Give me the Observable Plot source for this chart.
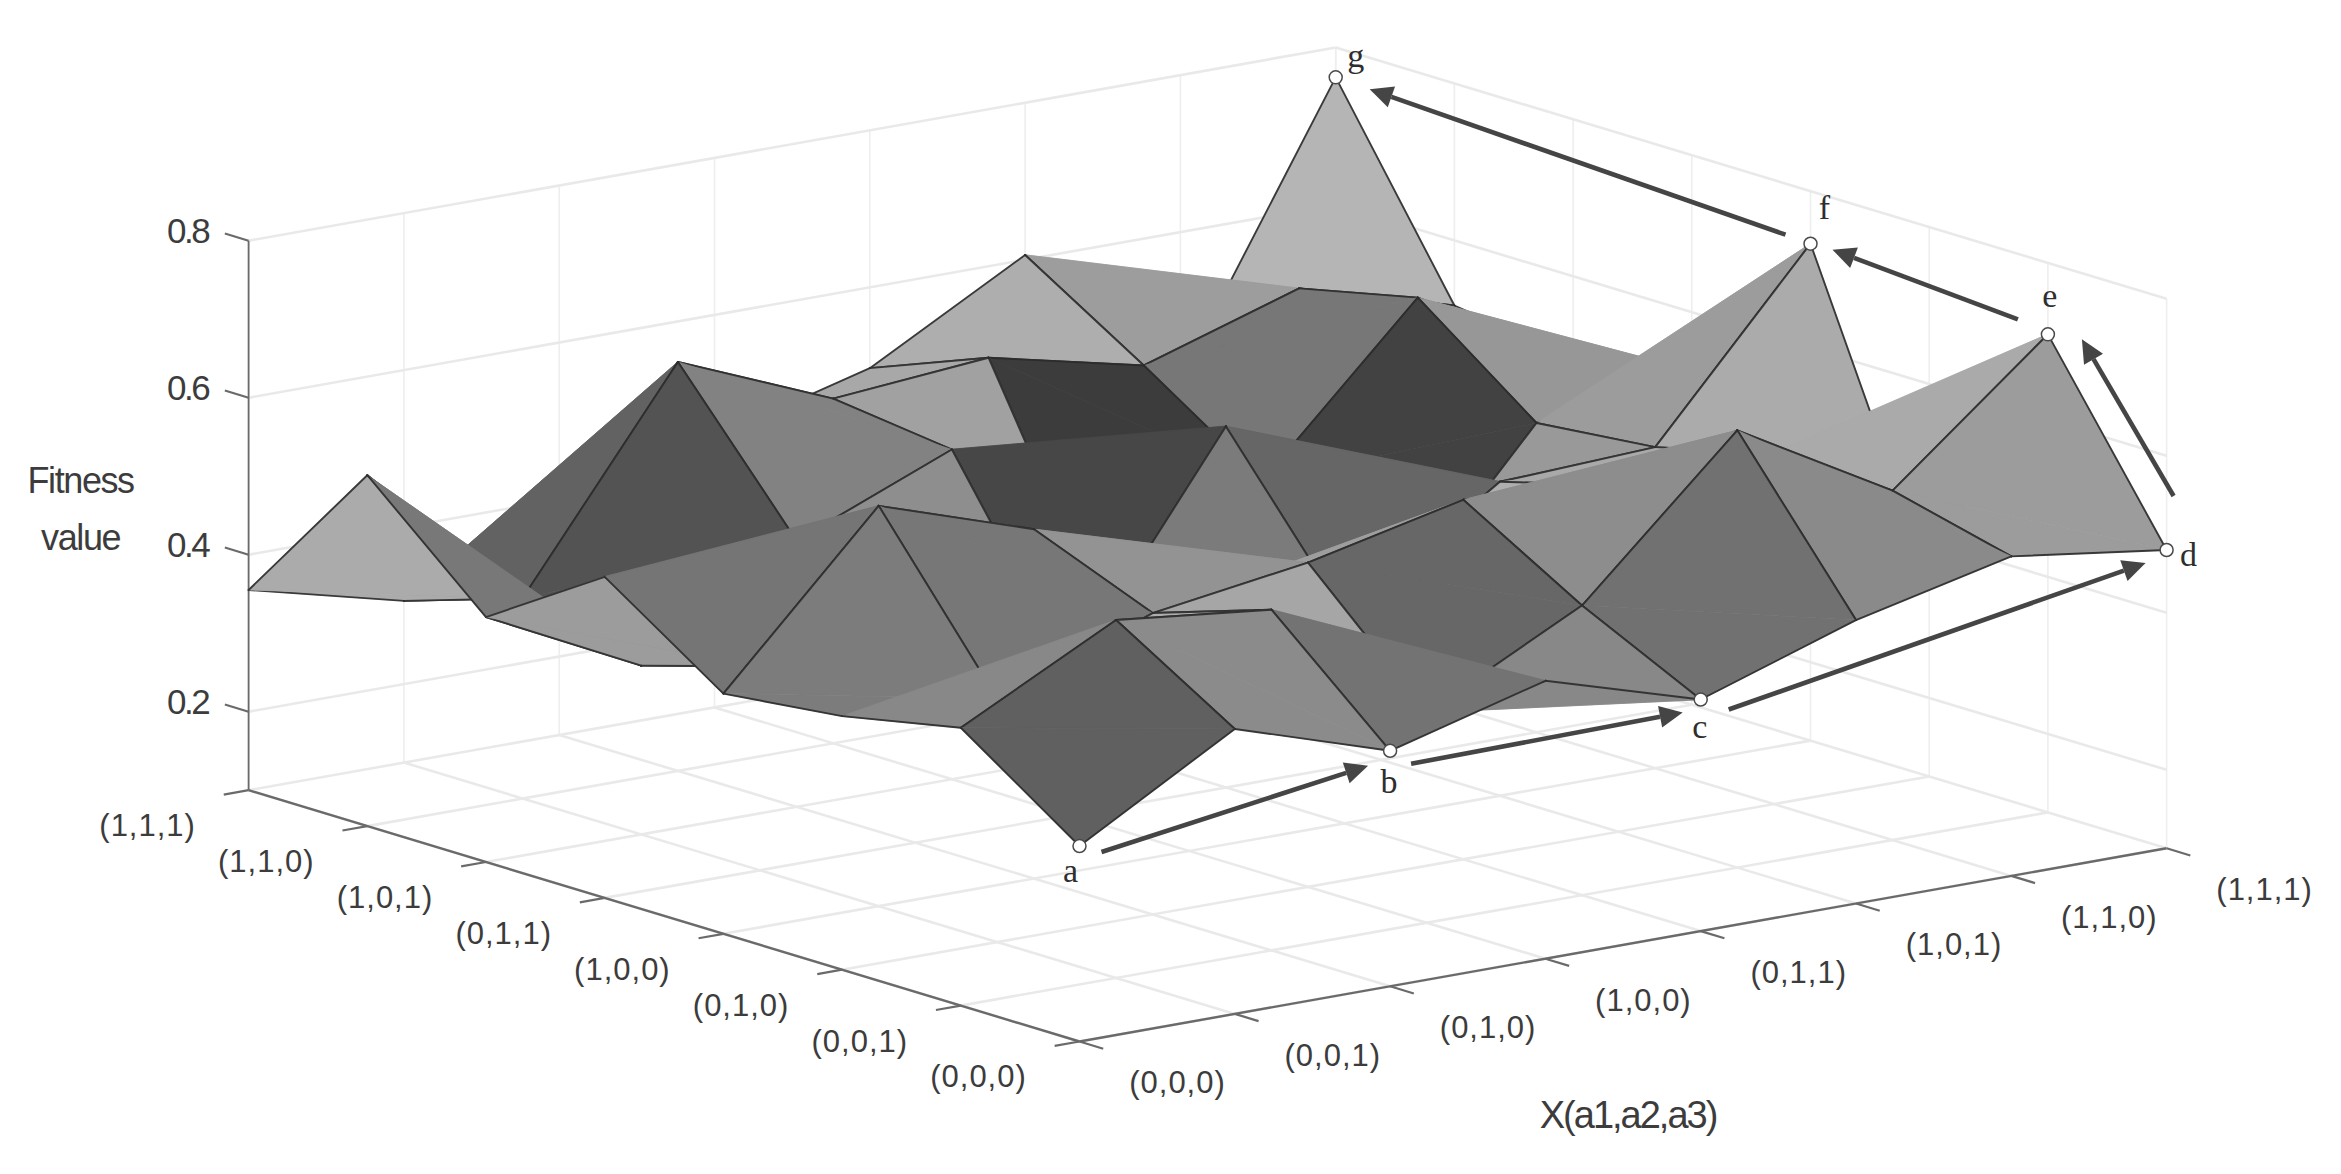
<!DOCTYPE html>
<html><head><meta charset="utf-8">
<style>html,body{margin:0;padding:0;background:#fff}svg{display:block}
.tick-label text{letter-spacing:1px}
.z-label text{letter-spacing:-2.5px}
.axis-title text{letter-spacing:-1.4px}
.x-title text{letter-spacing:-2px}
</style>
<script src="https://cdn.jsdelivr.net/npm/d3@7"></script>
<script src="https://cdn.jsdelivr.net/npm/@observablehq/plot@0.6"></script>
</head><body>
<div id="chart"></div>
<script>
// Fitness value at grid node (column index along the right axis, row index along the left axis)
const row0 = [0.349, 0.463, 0.400, 0.454, 0.395, 0.461, 0.507, 0.480];
const row1 = [0.454, 0.556, 0.534, 0.368, 0.469, 0.657, 0.545, 0.709];
const row2 = [0.423, 0.410, 0.484, 0.513, 0.558, 0.541, 0.547, 0.353];
const row3 = [0.406, 0.610, 0.545, 0.420, 0.366, 0.500, 0.509, 0.733];
const row4 = [0.509, 0.360, 0.470, 0.283, 0.560, 0.270, 0.494, 0.526];
const row5 = [0.412, 0.315, 0.439, 0.520, 0.256, 0.410, 0.608, 0.496];
const row6 = [0.547, 0.355, 0.621, 0.539, 0.556, 0.511, 0.574, 0.517];
const row7 = [0.355, 0.306, 0.330, 0.444, 0.497, 0.606, 0.414, 0.762];
const rows = [row0, row1, row2, row3, row4, row5, row6, row7];

const tickLabels = ["(0,0,0)", "(0,0,1)", "(0,1,0)", "(1,0,0)", "(0,1,1)", "(1,0,1)", "(1,1,0)", "(1,1,1)"];
const zTicks = [0.2, 0.4, 0.6, 0.8];
const pathNames = ["a", "b", "c", "d", "e", "f", "g"];
const pathCols = [0, 2, 4, 7, 7, 7, 7];
const pathRows = [0, 0, 0, 0, 1, 3, 7];

// Oblique view of the (column, row, fitness) box
const W = 2341, H = 1174;
const origin = [1079, 1041], colStep = [155.3, -27.6], rowStep = [-118.7, -35.9];
const zBase = 0.1, zTop = 0.8, zScale = 785;
const N = 7;
const P = (i, j, z = zBase) => ({
  x: origin[0] + colStep[0] * i + rowStep[0] * j,
  y: origin[1] + colStep[1] * i + rowStep[1] * j - (z - zBase) * zScale
});
const S = (i, j) => P(i, j, rows[j][i]);

const marks = [];
const TXT = "#3c3c3c";
const FONT = "Liberation Sans";

// box grid
const gridSegs = [];
for (let k = 0; k <= N; k++) {
  gridSegs.push({a: P(k, 0), b: P(k, N), w: 2.6, c: "#e9e9e9"});
  gridSegs.push({a: P(0, k), b: P(N, k), w: 2.6, c: "#e9e9e9"});
  gridSegs.push({a: P(k, N), b: P(k, N, zTop), w: 1.6, c: "#eeeeee"});
  gridSegs.push({a: P(N, k), b: P(N, k, zTop), w: 1.6, c: "#eeeeee"});
}
for (const z of zTicks) {
  gridSegs.push({a: P(0, N, z), b: P(N, N, z), w: 2.6, c: "#e9e9e9"});
  gridSegs.push({a: P(N, N, z), b: P(N, 0, z), w: 2.6, c: "#e9e9e9"});
}
marks.push(Plot.link(gridSegs, {x1: d => d.a.x, y1: d => d.a.y, x2: d => d.b.x, y2: d => d.b.y, stroke: d => d.c, strokeWidth: d => d.w}));

// axes
const axisSegs = [
  {a: P(0, 0), b: P(0, N), w: 2.4},
  {a: P(0, 0), b: P(N, 0), w: 2.4},
  {a: P(0, N), b: P(0, N, zTop), w: 1.8}
];
for (let k = 0; k <= N; k++) {
  const l = P(0, k), r = P(k, 0);
  axisSegs.push({a: l, b: {x: l.x - colStep[0] * 0.16, y: l.y - colStep[1] * 0.16}, w: 2.2});
  axisSegs.push({a: r, b: {x: r.x - rowStep[0] * 0.2, y: r.y - rowStep[1] * 0.2}, w: 2.2});
}
for (const z of zTicks) {
  const t = P(0, N, z);
  axisSegs.push({a: t, b: {x: t.x + rowStep[0] * 0.2, y: t.y + rowStep[1] * 0.2}, w: 2.2});
}
marks.push(Plot.link(axisSegs, {x1: d => d.a.x, y1: d => d.a.y, x2: d => d.b.x, y2: d => d.b.y, stroke: "#6a6a6a", strokeWidth: d => d.w}));

// surface, painted back to front; each cell is split on the (i+1,j)-(i,j+1) diagonal
// and takes its grey from the fitness of its nearest node
const poly = (pts, v) => pts.map(p => ({...p, v}));
const facet = (pts, v) => Plot.line(poly(pts, v), {x: "x", y: "y", fill: "v", stroke: "v", strokeWidth: 0.8, curve: "linear-closed"});
const edges = (segs) => Plot.link(segs, {x1: d => d[0].x, y1: d => d[0].y, x2: d => d[1].x, y2: d => d[1].y, stroke: "#2b2b2b", strokeWidth: 1.9, strokeOpacity: 0.9, strokeLinecap: "round"});
for (let i = N - 1; i >= 0; i--) {
  for (let j = N - 1; j >= 0; j--) {
    const v = rows[j][i];
    const a = S(i, j), b = S(i + 1, j), c = S(i + 1, j + 1), d = S(i, j + 1);
    marks.push(facet([b, c, d], v));
    marks.push(edges([[b, c], [c, d]]));
    marks.push(facet([a, b, d], v));
    marks.push(edges([[a, b], [a, d]]));
  }
}

// tick labels
const leftTicks = tickLabels.map((t, k) => ({t, ...P(0, k)}));
const rightTicks = tickLabels.map((t, k) => ({t, ...P(k, 0)}));
const tickStyle = {text: "t", fontFamily: FONT, fontSize: 31, fill: TXT, className: "tick-label"};
marks.push(Plot.text(leftTicks, {...tickStyle, x: "x", y: "y", dx: -101, dy: 36}));
marks.push(Plot.text(rightTicks, {...tickStyle, x: "x", y: "y", dx: 98, dy: 42}));
marks.push(Plot.text(zTicks.map(z => ({t: z.toFixed(1), ...P(0, N, z)})), {x: "x", y: "y", text: "t", dx: -61, dy: -9, fontFamily: FONT, fontSize: 35, fill: TXT, className: "z-label"}));

// axis titles (placed relative to the box)
const leftMid = P(0, N, 0.4), btm = P(N / 2, 0);
marks.push(Plot.text([{t: "Fitness", ...leftMid}], {x: "x", y: "y", text: "t", dx: -168, dy: -73, fontFamily: FONT, fontSize: 36, fill: TXT, className: "axis-title"}));
marks.push(Plot.text([{t: "value", ...leftMid}], {x: "x", y: "y", text: "t", dx: -168, dy: -16, fontFamily: FONT, fontSize: 36, fill: TXT, className: "axis-title"}));
marks.push(Plot.text([{t: "X(a1,a2,a3)", ...btm}], {x: "x", y: "y", text: "t", dx: 5, dy: 171, fontFamily: FONT, fontSize: 38, fill: TXT, className: "x-title"}));

// search path a..g
const nodes = pathNames.map((name, k) => ({name, ...S(pathCols[k], pathRows[k])}));
const startNudge = [[22, 6], [21, 13], [28, 10], [7, -54], [-30, -15], [-25, -9]];
const endNudge = [[-22, 15], [-18, 13], [-21, 13], [34, 5], [22, 6], [34, 12]];
const arrows = d3.range(nodes.length - 1).map(k => {
  const s = {x: nodes[k].x + startNudge[k][0], y: nodes[k].y + startNudge[k][1]};
  const e = {x: nodes[k + 1].x + endNudge[k][0], y: nodes[k + 1].y + endNudge[k][1]};
  const len = Math.hypot(e.x - s.x, e.y - s.y), ux = (e.x - s.x) / len, uy = (e.y - s.y) / len;
  const hl = 23, hw = 11;
  const base = {x: e.x - ux * hl, y: e.y - uy * hl};
  return {s, base, head: [e, {x: base.x - uy * hw, y: base.y + ux * hw}, {x: base.x + uy * hw, y: base.y - ux * hw}].map(p => ({...p, k}))};
});
marks.push(Plot.link(arrows, {x1: d => d.s.x, y1: d => d.s.y, x2: d => d.base.x, y2: d => d.base.y, stroke: "#454545", strokeWidth: 4.6}));
marks.push(Plot.line(arrows.flatMap(d => d.head), {x: "x", y: "y", z: "k", fill: "#454545", stroke: "none", curve: "linear-closed"}));
marks.push(Plot.dot(nodes, {x: "x", y: "y", r: 6.5, fill: "white", stroke: "#4a4a4a", strokeWidth: 1.5}));
const labelNudge = [[-9, 25], [-1, 31], [-1, 28], [22, 5], [2, -38], [14, -36], [20, -21]];
nodes.forEach((n, k) => marks.push(Plot.text([n], {x: "x", y: "y", text: "name", dx: labelNudge[k][0], dy: labelNudge[k][1], fontFamily: "Liberation Serif", fontSize: 34, fill: "#2e2e2e"})));

const chart = Plot.plot({
  width: W, height: H, margin: 0,
  x: {domain: [0, W], range: [0, W], axis: null},
  y: {domain: [0, H], range: [0, H], axis: null},
  color: {type: "linear", domain: [0.25, 0.75], range: ["#3a3a3a", "#f8f8f8"]},
  style: {background: "#fff"},
  marks
});
document.getElementById("chart").appendChild(chart);
</script>
</body></html>
